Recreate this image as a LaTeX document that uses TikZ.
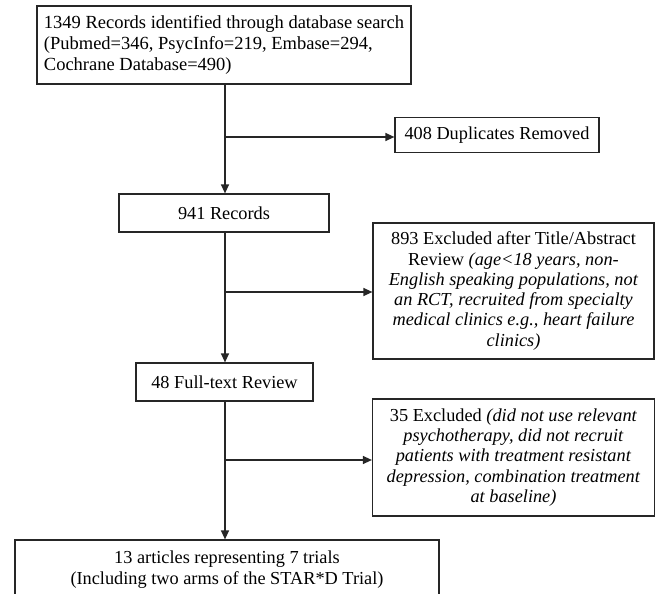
\documentclass[tikz,border=0pt]{standalone}
\usepackage{fontspec}
\setmainfont{Liberation Serif}
\usetikzlibrary{arrows.meta}
\begin{document}
\begin{tikzpicture}[x=1pt,y=-1pt,
 box/.style={draw=black!85, line width=1.2pt, fill=white, inner sep=0pt, align=center,
   font=\fontsize{18.3}{20.3}\selectfont},
 arr/.style={draw=black!85, line width=1.2pt, -{Triangle[length=9pt,width=8pt]}}]
\useasboundingbox (0,0) rectangle (656,594);
\clip (0,0) rectangle (656,594);
\node[box, align=left, minimum width=374pt, minimum height=78pt,
  font=\fontsize{18.5}{21}\selectfont] (src) at (224,45)
  {1349 Records identified through database search\\(Pubmed=346, PsycInfo=219, Embase=294,\\Cochrane Database=490)};
\node[box, minimum width=204pt, minimum height=35pt] (dup) at (497,135) {408 Duplicates Removed};
\node[box, minimum width=210pt, minimum height=38pt] (rec) at (224,213) {941 Records};
\node[box, minimum width=281pt, minimum height=136pt] (exa) at (513.5,291)
  {893 Excluded after Title/Abstract\\
   Review \textit{(age<18 years, non-}\\
   \textit{English speaking populations, not}\\
   \textit{an RCT, recruited from specialty}\\
   \textit{medical clinics e.g., heart failure}\\
   \textit{clinics)}};
\node[box, minimum width=177pt, minimum height=38pt] (ft) at (224.5,382) {48 Full-text Review};
\node[box, minimum width=282pt, minimum height=117pt] (exb) at (513.5,457.5)
  {35 Excluded \textit{(did not use relevant}\\
   \textit{psychotherapy, did not recruit}\\
   \textit{patients with treatment resistant}\\
   \textit{depression, combination treatment}\\
   \textit{at baseline)}};
\node[box, minimum width=424pt, minimum height=60pt] (fin) at (227,570)
  {\raisebox{4pt}{\begin{tabular}{@{}c@{}}13 articles representing 7 trials\\(Including two arms of the STAR*D Trial)\end{tabular}}};
\coordinate (b1) at (225,137);
\coordinate (b2) at (225,292);
\coordinate (b3) at (225,460);
\draw[arr] (src.south -| b1) -- (rec.north -| b1);
\draw[arr] (b1) -- (b1 -| dup.west);
\draw[arr] (rec.south -| b2) -- (ft.north -| b2);
\draw[arr] (b2) -- (b2 -| exa.west);
\draw[arr] (ft.south -| b3) -- (fin.north -| b3);
\draw[arr] (b3) -- (b3 -| exb.west);
\end{tikzpicture}
\end{document}
